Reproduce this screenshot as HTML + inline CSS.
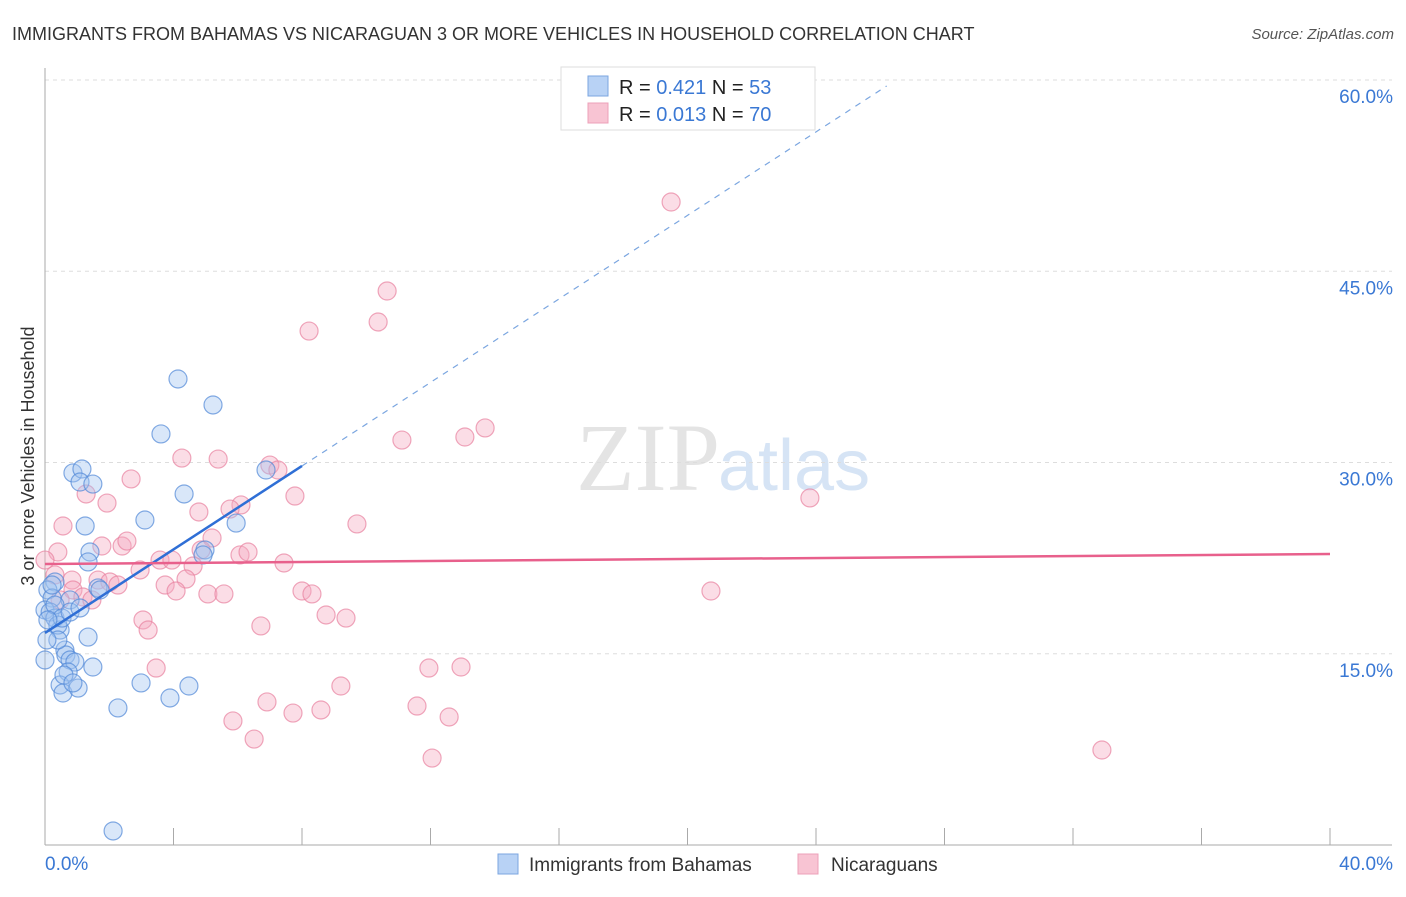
<!DOCTYPE html>
<html><head><meta charset="utf-8"><style>
body{margin:0;background:#fff;font-family:"Liberation Sans",sans-serif}
svg text{font-family:"Liberation Sans",sans-serif}
</style></head><body>
<svg width="1406" height="892" id="c">
<text x="12" y="40" font-size="18" fill="#333">IMMIGRANTS FROM BAHAMAS VS NICARAGUAN 3 OR MORE VEHICLES IN HOUSEHOLD CORRELATION CHART</text>
<text x="1394" y="39" font-size="15" fill="#555" font-style="italic" text-anchor="end">Source: ZipAtlas.com</text>
<text x="720" y="490" font-size="96" fill="#e4e4e4" text-anchor="end" font-family="Liberation Serif" style="font-family:'Liberation Serif',serif">ZIP</text>
<text x="718" y="490" font-size="72" fill="#d6e4f5">atlas</text>
<text transform="translate(34,456) rotate(-90)" font-size="18" fill="#333" text-anchor="middle">3 or more Vehicles in Household</text>
<g id="grid"></g><g id="pts"></g><g id="lines"></g>
<g>
<rect x="561" y="67" width="254" height="63" fill="#fff" stroke="#ddd"/>
<rect x="588" y="76" width="20" height="20" fill="#b8d2f5" stroke="#7ba6e0"/>
<rect x="588" y="103" width="20" height="20" fill="#f8c4d3" stroke="#eda0b8"/>
<text x="619" y="94" font-size="20" fill="#222">R = <tspan fill="#3a78d4">0.421</tspan>   N = <tspan fill="#3a78d4">53</tspan></text>
<text x="619" y="121" font-size="20" fill="#222">R = <tspan fill="#3a78d4">0.013</tspan>   N = <tspan fill="#3a78d4">70</tspan></text>
</g>
<g>
<rect x="498" y="854" width="20" height="20" fill="#b8d2f5" stroke="#7ba6e0"/>
<text x="529" y="871" font-size="19" fill="#333">Immigrants from Bahamas</text>
<rect x="798" y="854" width="20" height="20" fill="#f8c4d3" stroke="#eda0b8"/>
<text x="831" y="871" font-size="19" fill="#333">Nicaraguans</text>
</g>
</svg>
<script>
const yTicks=[15,30,45,60];
const yTickLabels=["15.0%","30.0%","45.0%","60.0%"];
const xTickLabels=["0.0%","40.0%"];
const blueX=[4.14,5.23,3.61,0.87,1.15,1.09,1.49,4.33,3.11,1.25,5.95,6.88,1.40,1.34,4.98,4.92,0.31,0.09,0.22,0.78,1.65,0,0.16,0.31,0.47,0.40,1.34,0,0.62,0.65,0.78,0.93,0.72,1.49,0.47,0.56,1.03,2.99,4.48,3.89,2.27,2.12,0.59,0.31,0.53,0.09,0.78,1.09,0.22,0.40,0.06,0.87,1.71];
const blueY=[36.55,34.51,32.24,29.18,29.49,28.47,28.31,27.53,25.49,25.02,25.25,29.41,22.98,22.2,23.14,22.75,20.63,20.0,19.37,19.22,20.16,18.43,18.27,17.8,16.86,17.25,16.31,14.51,15.29,14.9,14.51,14.35,13.57,13.96,12.55,11.92,12.31,12.71,12.47,11.53,10.75,1.1,13.33,18.82,17.8,17.65,18.27,18.59,20.39,16.08,16.08,12.71,20.0];
const pinkX=[19.49,10.65,8.22,10.37,13.70,13.07,11.11,4.26,5.39,7.0,7.25,2.68,1.28,1.93,7.78,4.79,6.10,5.76,23.81,0.56,9.71,0.40,1.77,2.40,2.55,5.20,3.58,3.95,4.86,6.07,6.32,7.44,4.61,2.96,0.31,0.84,1.65,2.02,2.27,3.74,4.39,4.08,5.07,5.57,8.0,8.31,0.87,1.18,1.46,3.05,3.21,8.75,9.37,6.72,20.73,3.46,11.95,12.95,9.21,6.91,7.72,8.59,11.58,12.58,5.85,6.51,12.05,32.90,0,0.47];
const pinkY=[50.43,43.45,40.31,41.02,32.71,32.0,31.76,30.35,30.27,29.8,29.41,28.71,27.53,26.82,27.37,26.12,26.67,26.35,27.22,25.02,25.18,22.98,23.45,23.45,23.84,24.08,22.35,22.35,23.14,22.75,22.98,22.12,21.88,21.57,21.18,20.78,20.78,20.63,20.39,20.39,20.86,19.92,19.69,19.69,19.92,19.69,20.0,19.45,19.22,17.65,16.86,18.04,17.8,17.18,19.92,13.88,13.88,13.96,12.47,11.22,10.35,10.59,10.9,10.04,9.73,8.31,6.82,7.45,22.35,19.22];
const blueTrend=[16.63,1.6375];
const pinkTrend=[22.04,0.0195];
const NS="http://www.w3.org/2000/svg";
const X=v=>45+v*1285/40, Y=v=>845-v*765/60;
function mk(tag,a,p){const e=document.createElementNS(NS,tag);for(const k in a)e.setAttribute(k,a[k]);p.appendChild(e);return e;}
const g=document.getElementById('grid');
yTicks.forEach((t,i)=>{
 const l=mk('line',{x1:45,x2:1392,y1:Y(t),y2:Y(t),stroke:'#ddd','stroke-dasharray':'4,4'},g);
 
 
 const tx=mk('text',{x:1393,y:Y(t)+23,'font-size':19,fill:'#3a78d4','text-anchor':'end'},g);
 tx.textContent=yTickLabels[i];
 
 
});
let a=mk('line',{x1:45,x2:45,y1:68,y2:845,stroke:'#aaa'},g);


a=mk('line',{x1:45,x2:1392,y1:845,y2:845,stroke:'#aaa'},g);


for(let i=1;i<=10;i++){const tk=mk('line',{x1:X(i*4),x2:X(i*4),y1:828,y2:845,stroke:'#aaa'},g);
 
 }
[[0,'start',45],[1,'end',1393]].forEach(([i,an,x])=>{const t=mk('text',{x:x,y:870,'font-size':19,fill:'#3a78d4','text-anchor':an},g);t.textContent=xTickLabels[i];
 
 });
const p=document.getElementById('pts');
pinkX.forEach((v,i)=>{const c=mk('circle',{cx:X(v),cy:Y(pinkY[i]),r:9,fill:'rgba(245,170,192,0.4)',stroke:'rgba(232,130,160,0.7)','stroke-width':1.2},p);
 
 });
blueX.forEach((v,i)=>{const c=mk('circle',{cx:X(v),cy:Y(blueY[i]),r:9,fill:'rgba(160,196,240,0.4)',stroke:'rgba(80,135,215,0.7)','stroke-width':1.2},p);
 
 });
const L=document.getElementById('lines');
let t=mk('line',{x1:X(0),y1:Y(blueTrend[0]),x2:X(8),y2:Y(blueTrend[0]+8*blueTrend[1]),stroke:'#2f6fd6','stroke-width':2.5},L);


t=mk('line',{x1:X(8),y1:Y(blueTrend[0]+8*blueTrend[1]),x2:X(26.2),y2:Y(blueTrend[0]+26.2*blueTrend[1]),stroke:'#7ba6e0','stroke-width':1.2,'stroke-dasharray':'6,6'},L);


t=mk('line',{x1:X(0),y1:Y(pinkTrend[0]),x2:X(40),y2:Y(pinkTrend[0]+40*pinkTrend[1]),stroke:'#e8608c','stroke-width':2.5},L);


</script>
</body></html>
